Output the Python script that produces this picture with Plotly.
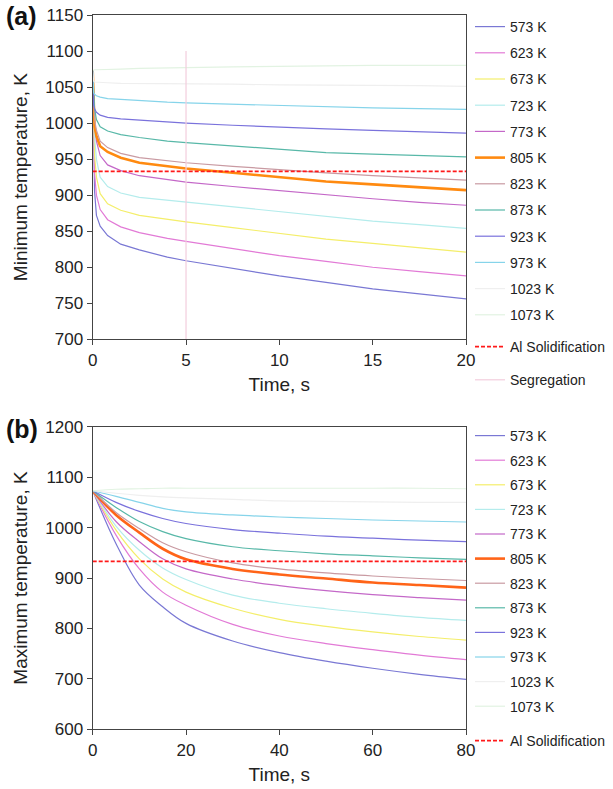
import plotly.graph_objects as go

# ---------------- data ----------------
labels = ["573 K", "623 K", "673 K", "723 K", "773 K", "805 K", "823 K",
          "873 K", "923 K", "973 K", "1023 K", "1073 K"]
colors_a = ["#7a78d4", "#e27ad6", "#f4ee6a", "#b4ecec", "#c468c8", "#ff8a10",
            "#c99aa2", "#58b8a8", "#7a72dc", "#86d4ea", "#efefef", "#e2f3e2"]
colors_b = ["#7a78d4", "#e27ad6", "#f4ee6a", "#b4ecec", "#c468c8", "#ff6418",
            "#c99aa2", "#58b8a8", "#7a72dc", "#86d4ea", "#efefef", "#e2f3e2"]

# panel (a): minimum temperature, K vs time, s
time_a = [0, 0.05, 0.1, 0.2, 0.4, 0.8, 1.5, 2.5, 4, 5, 7.5, 10, 12.5, 15, 17.5, 20]
tmin_573 = [1073, 950, 905, 872, 857, 844, 832, 824, 814, 809, 798, 788, 779, 770, 763, 756]
tmin_623 = [1073, 970, 930, 900, 880, 866, 856, 848, 840, 836, 826, 816, 808, 800, 794, 788]
tmin_673 = [1073, 990, 955, 925, 902, 888, 879, 872, 866, 863, 855, 847, 839, 833, 827, 821]
tmin_723 = [1073, 1010, 980, 950, 925, 912, 903, 897, 893, 890, 884, 877, 870, 864, 859, 854]
tmin_773 = [1073, 1025, 1000, 975, 955, 942, 934, 927, 921, 918, 912, 906, 900, 895, 890, 886]
tmin_805 = [1073, 1020, 995, 982, 968, 960, 952, 945, 940, 937, 931, 925, 919, 915, 911, 907]
tmin_823 = [1073, 1030, 1005, 990, 975, 966, 958, 952, 948, 945, 940, 935, 931, 927, 924, 921]
tmin_873 = [1073, 1040, 1020, 1005, 995, 989, 984, 980, 975, 973, 968, 963, 959, 957, 955, 953]
tmin_923 = [1073, 1025, 1020, 1015, 1011, 1008, 1006, 1004, 1001, 1000, 997, 994, 992, 990, 988, 986]
tmin_973 = [1073, 1042, 1040, 1038, 1036, 1034, 1033, 1031, 1029, 1028, 1026, 1024, 1022, 1021, 1020, 1019]
tmin_1023 = [1073, 1058, 1057, 1057, 1056, 1056, 1055, 1055, 1054, 1054, 1054, 1053, 1053, 1052, 1052, 1051]
tmin_1073 = [1073, 1074, 1074, 1074, 1074, 1075, 1075, 1076, 1077, 1077, 1078, 1079, 1079, 1080, 1080, 1080]
tmin_all = [tmin_573, tmin_623, tmin_673, tmin_723, tmin_773, tmin_805, tmin_823,
            tmin_873, tmin_923, tmin_973, tmin_1023, tmin_1073]

al_solid = 933
seg_time = [5, 5]
seg_temp = [700, 1100]

# panel (b): maximum temperature, K vs time, s
time_b = [0, 5, 10, 15, 20, 30, 40, 50, 60, 70, 80]
tmax_573 = [1073, 968, 886, 843, 810, 775, 752, 735, 721, 709, 699]
tmax_623 = [1073, 985, 918, 872, 846, 808, 785, 770, 758, 747, 738]
tmax_673 = [1073, 995, 938, 898, 872, 840, 818, 804, 793, 784, 777]
tmax_723 = [1073, 1003, 955, 920, 897, 866, 850, 839, 830, 822, 816]
tmax_773 = [1073, 1012, 972, 938, 918, 898, 885, 875, 867, 861, 856]
tmax_805 = [1073, 1025, 990, 958, 937, 918, 907, 899, 891, 886, 881]
tmax_823 = [1073, 1030, 998, 970, 952, 930, 918, 910, 904, 899, 895]
tmax_873 = [1073, 1040, 1012, 992, 978, 962, 954, 948, 944, 940, 937]
tmax_923 = [1073, 1050, 1032, 1018, 1008, 996, 989, 983, 979, 975, 972]
tmax_973 = [1073, 1062, 1050, 1038, 1031, 1025, 1021, 1018, 1015, 1013, 1011]
tmax_1023 = [1073, 1068, 1064, 1061, 1059, 1056, 1053, 1052, 1051, 1050, 1050]
tmax_1073 = [1073, 1076, 1077, 1078, 1078, 1078, 1078, 1078, 1078, 1078, 1077]
tmax_all = [tmax_573, tmax_623, tmax_673, tmax_723, tmax_773, tmax_805, tmax_823,
            tmax_873, tmax_923, tmax_973, tmax_1023, tmax_1073]

xticks_a = [0, 5, 10, 15, 20]
yticks_a = [700, 750, 800, 850, 900, 950, 1000, 1050, 1100, 1150]
xticks_b = [0, 20, 40, 60, 80]
yticks_b = [600, 700, 800, 900, 1000, 1100, 1200]

# ---------------- figure ----------------
W, H = 613, 789
FONT = "Liberation Sans, Arial, sans-serif"
fig = go.Figure()

for i, (lab, ys) in enumerate(zip(labels, tmin_all)):
    fig.add_trace(go.Scatter(
        x=time_a, y=ys, mode="lines", name=lab,
        line=dict(color=colors_a[i], width=2.6 if lab == "805 K" else 1.2),
        legend="legend", legendgroup="a" + lab, xaxis="x", yaxis="y"))
fig.add_trace(go.Scatter(
    x=[time_a[0], time_a[-1]], y=[al_solid, al_solid], mode="lines",
    name="Al Solidification", line=dict(color="#ff1a1a", width=1.6, dash="4px,2px"),
    legend="legend2", legendgroup="aal", xaxis="x", yaxis="y"))
fig.add_trace(go.Scatter(
    x=seg_time, y=seg_temp, mode="lines", name="Segregation",
    line=dict(color="#f3cddd", width=1.2),
    legend="legend2", legendgroup="aseg", xaxis="x", yaxis="y"))

for i, (lab, ys) in enumerate(zip(labels, tmax_all)):
    fig.add_trace(go.Scatter(
        x=time_b, y=ys, mode="lines", name=lab, line_shape="spline",
        line=dict(color=colors_b[i], width=2.6 if lab == "805 K" else 1.2),
        legend="legend3", legendgroup="b" + lab, xaxis="x2", yaxis="y2"))
fig.add_trace(go.Scatter(
    x=[time_b[0], time_b[-1]], y=[al_solid, al_solid], mode="lines",
    name="Al Solidification", line=dict(color="#ff1a1a", width=1.6, dash="4px,2px"),
    legend="legend4", legendgroup="bal", xaxis="x2", yaxis="y2"))

xdom = [92.7 / W, 466 / W]
ydom_a = [1 - 339.3 / H, 1 - 15 / H]
ydom_b = [1 - 729.3 / H, 1 - 426.7 / H]

axis_common = dict(showgrid=False, zeroline=False, showline=True, linecolor="#444",
                   linewidth=1.3, mirror=True, ticks="outside", ticklen=5,
                   automargin=False,
                   tickcolor="#444", tickfont=dict(size=17, color="#222", family=FONT))

fig.update_layout(
    width=W, height=H, margin=dict(l=0, r=0, t=0, b=0, autoexpand=False),
    paper_bgcolor="white", plot_bgcolor="white",
    font=dict(family=FONT, color="#222"),
    xaxis=dict(domain=xdom, range=[0, 20], tickvals=xticks_a, anchor="y",
               title=dict(text="Time, s", font=dict(size=19), standoff=8), **axis_common),
    yaxis=dict(domain=ydom_a, range=[700, 1150], tickvals=yticks_a, anchor="x",
               title=dict(text="Minimum temperature, K", font=dict(size=19), standoff=12),
               **axis_common),
    xaxis2=dict(domain=xdom, range=[0, 80], tickvals=xticks_b, anchor="y2",
                title=dict(text="Time, s", font=dict(size=19), standoff=8), **axis_common),
    yaxis2=dict(domain=ydom_b, range=[600, 1200], tickvals=yticks_b, anchor="x2",
                title=dict(text="Maximum temperature, K", font=dict(size=19), standoff=12),
                **axis_common),
)

leg_common = dict(xanchor="left", yanchor="top", bgcolor="rgba(0,0,0,0)",
                  font=dict(size=14, family=FONT, color="#222"),
                  traceorder="grouped", itemwidth=30, itemclick=False)
fig.update_layout(
    legend=dict(x=470 / W, y=1 - 11 / H, tracegroupgap=5, **leg_common),
    legend2=dict(x=470 / W, y=1 - 331 / H, tracegroupgap=12, **leg_common),
    legend3=dict(x=470 / W, y=1 - 420 / H, tracegroupgap=3.4, **leg_common),
    legend4=dict(x=470 / W, y=1 - 725 / H, tracegroupgap=5, **leg_common),
)

fig.add_annotation(text="<b>(a)</b>", x=4 / W, y=1 - 16 / H, xref="paper", yref="paper",
                   xanchor="left", yanchor="middle", showarrow=False,
                   font=dict(size=25, family=FONT, color="#111"))
fig.add_annotation(text="<b>(b)</b>", x=4 / W, y=1 - 429 / H, xref="paper", yref="paper",
                   xanchor="left", yanchor="middle", showarrow=False,
                   font=dict(size=25, family=FONT, color="#111"))

fig.write_html("out.html", config={"displayModeBar": False},
               post_script="document.body.style.margin='0';")
